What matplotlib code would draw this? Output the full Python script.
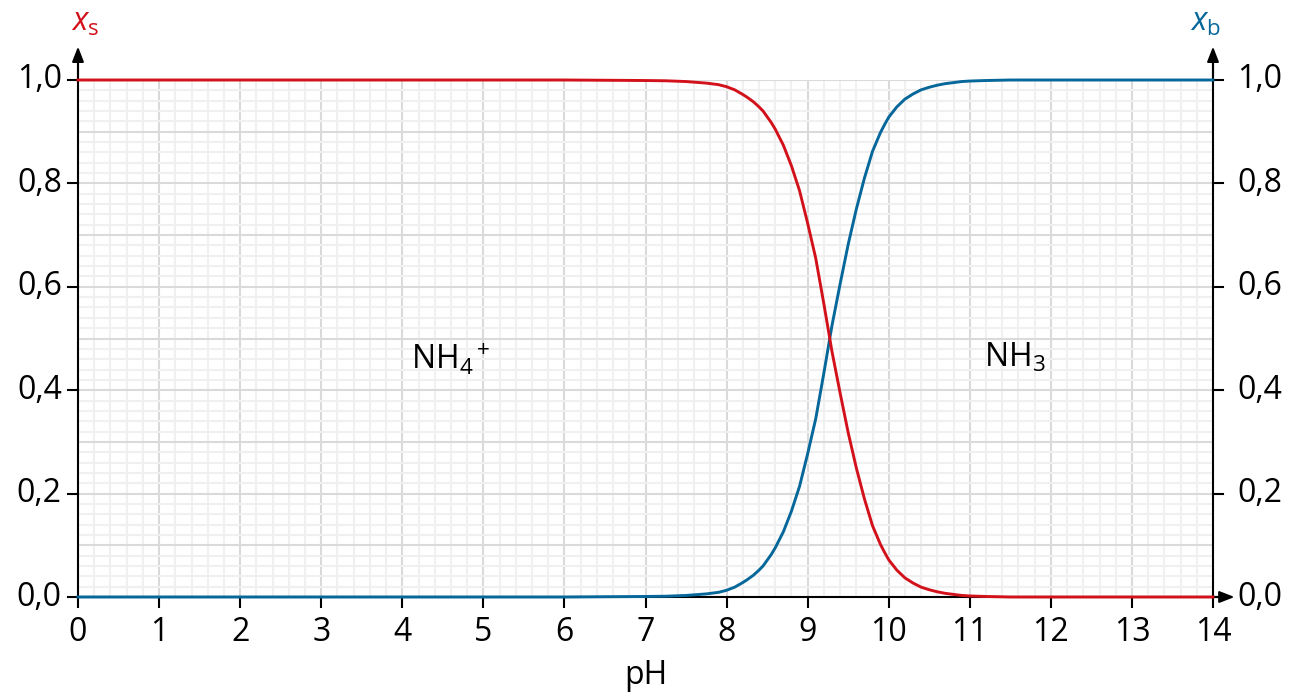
import numpy as np
import matplotlib
matplotlib.use("Agg")
import matplotlib.pyplot as plt
from matplotlib.ticker import MultipleLocator

plt.rcParams['font.family'] = ['Open Sans', 'DejaVu Sans']
plt.rcParams['mathtext.fontset'] = 'custom'
plt.rcParams['mathtext.rm'] = 'Open Sans'
plt.rcParams['mathtext.it'] = 'Open Sans:italic'

# values
ph = [0, 1, 2, 3, 4, 5, 6, 7.0, 7.25, 7.5, 7.75, 7.9, 8.0, 8.1, 8.2, 8.25, 8.33,
      8.4, 8.45, 8.5, 8.55, 8.6, 8.7, 8.8, 8.9, 9.0, 9.1, 9.2, 9.3, 9.4, 9.5,
      9.6, 9.7, 9.8, 9.9, 9.95, 10.0, 10.1, 10.2, 10.3, 10.4, 10.5, 10.6, 10.7,
      10.8, 10.9, 11.0, 11.2, 11.5, 12, 13, 14]
x_s = [1.0, 1.0, 1.0, 1.0, 1.0, 1.0, 1.0, 0.999, 0.9985, 0.997, 0.994, 0.991,
       0.987, 0.981, 0.972, 0.967, 0.958, 0.948, 0.94, 0.929, 0.918, 0.905,
       0.874, 0.834, 0.786, 0.723, 0.655, 0.567, 0.475, 0.395, 0.318, 0.25,
       0.19, 0.138, 0.101, 0.086, 0.072, 0.052, 0.037, 0.027, 0.019, 0.014,
       0.01, 0.007, 0.005, 0.003, 0.002, 0.001, 0.0, 0.0, 0.0, 0.0]
x_b = [0.0, 0.0, 0.0, 0.0, 0.0, 0.0, 0.0, 0.001, 0.0015, 0.003, 0.006, 0.009,
       0.013, 0.019, 0.028, 0.033, 0.042, 0.052, 0.06, 0.071, 0.082, 0.095,
       0.126, 0.166, 0.214, 0.277, 0.345, 0.433, 0.525, 0.605, 0.682, 0.75,
       0.81, 0.862, 0.899, 0.914, 0.928, 0.948, 0.963, 0.973, 0.981, 0.986,
       0.99, 0.993, 0.995, 0.997, 0.998, 0.999, 1.0, 1.0, 1.0, 1.0]

red = '#d2111b'
blue = '#06679a'

fig = plt.figure(figsize=(13, 7), dpi=100)
ax = fig.add_axes([78 / 1300, 1 - 597 / 700, (1213 - 78) / 1300, (597 - 80) / 700])

ax.set_xlim(0, 14)
ax.set_ylim(0, 1)

ax.xaxis.set_major_locator(MultipleLocator(1))
ax.xaxis.set_minor_locator(MultipleLocator(0.2))
ax.yaxis.set_major_locator(MultipleLocator(0.1))
ax.yaxis.set_minor_locator(MultipleLocator(0.02))
ax.grid(which='minor', color='#f0f0f0', lw=1.5, zorder=0)
ax.grid(which='major', color='#dadada', lw=1.5, zorder=0)
ax.set_axisbelow(True)

n = 8  # index of pH 7.25, where the blue curve starts to rise
ax.plot(ph, x_s, color=red, lw=2.1, zorder=6, solid_joinstyle='round',
        clip_on=False)
ax.plot(ph[:n], x_b[:n], color=blue, lw=2.1, zorder=7, clip_on=False)
ax.plot(ph[n - 1:], x_b[n - 1:], color=blue, lw=2.1, zorder=5.5,
        solid_joinstyle='round', clip_on=False)

# ticks
ax.tick_params(axis='x', which='major', direction='out', length=8, width=1.5,
               labelsize=23, pad=6)
ax.tick_params(axis='both', which='minor', length=0)
ax.set_yticks([0, 0.1, 0.2, 0.3, 0.4, 0.5, 0.6, 0.7, 0.8, 0.9, 1.0])
ax.tick_params(axis='y', which='major', length=0, labelleft=False)

fmt = lambda v: ('%.1f' % v).replace('.', ',')
for v in [0, 0.2, 0.4, 0.6, 0.8, 1.0]:
    ax.plot([-0.12, 0], [v, v], color='black', lw=1.5, clip_on=False, zorder=5)
    ax.plot([14, 14.12], [v, v], color='black', lw=1.5, clip_on=False, zorder=5)
    ax.text(-0.2, v, fmt(v), ha='right', va='center', fontsize=23)
    ax.text(14.3, v, fmt(v), ha='left', va='center', fontsize=23)

for s in ['top', 'right', 'left']:
    ax.spines[s].set_visible(False)
ax.spines['bottom'].set_linewidth(1.5)
ax.spines['bottom'].set_zorder(4)

# axes with arrows
ax.plot([0, 0], [0, 1.04], color='black', lw=1.5, clip_on=False, zorder=5)
ax.plot([14, 14], [0, 1.04], color='black', lw=1.5, clip_on=False, zorder=5)
ax.plot([14, 14.1], [0, 0], color='black', lw=1.5, clip_on=False, zorder=5)
arrow = dict(arrowstyle='-|>,head_length=0.9,head_width=0.35', color='black', lw=1.5)
ax.annotate('', xy=(0, 1.07), xytext=(0, 1.0), arrowprops=arrow, annotation_clip=False)
ax.annotate('', xy=(14, 1.07), xytext=(14, 1.0), arrowprops=arrow, annotation_clip=False)
ax.annotate('', xy=(14.3, 0), xytext=(14.0, 0), arrowprops=arrow, annotation_clip=False)

ax.set_xticks(range(15))
ax.set_xlabel('pH', fontsize=23, labelpad=7)

fig.text(85 / 1300, 1 - 22 / 700, r'$x_{\rm s}$', color=red, fontsize=23,
         ha='center', va='center')
fig.text(1205 / 1300, 1 - 22 / 700, r'$x_{\rm b}$', color=blue, fontsize=23,
         ha='center', va='center')

ax.text(4.6, 0.462, r'NH$_4$$^+$', fontsize=23, ha='center', va='center')
ax.text(11.55, 0.462, r'NH$_3$', fontsize=23, ha='center', va='center')

fig.savefig('out.png', dpi=100)
